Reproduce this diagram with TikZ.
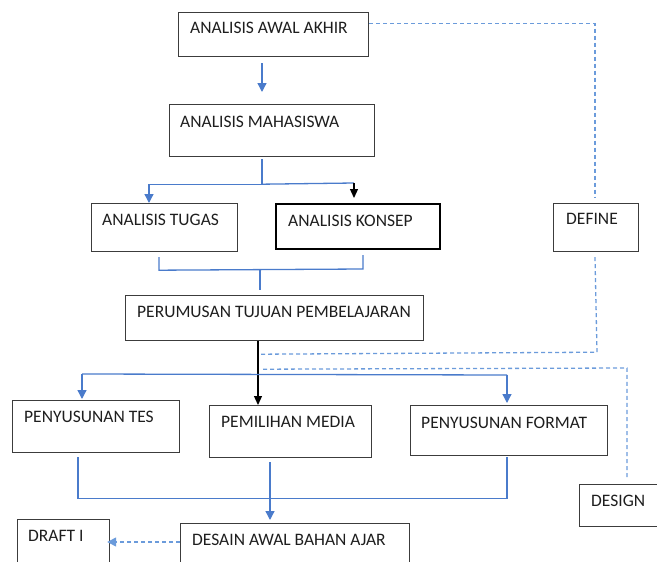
\documentclass[tikz,border=0pt]{standalone}
\usepackage{fontspec}
\setmainfont{Carlito}
\usepackage{tikz}
\usetikzlibrary{arrows.meta}

\definecolor{boxline}{HTML}{3C3C3C}
\definecolor{flowblue}{HTML}{4A7BCB}
\definecolor{dashblue}{HTML}{6B9BDB}
\definecolor{txt}{HTML}{1E1E1E}

\tikzset{
    box/.style={draw=boxline, line width=1.2pt, rectangle, anchor=north west, inner sep=0pt},
    boxtext/.style={anchor=base west, inner sep=0pt, text=txt, font=\fontsize{17.5}{20}\selectfont},
    flow/.style={draw=flowblue, line width=1.3pt},
    flowarrow/.style={flow, -{Triangle[width=9pt,length=9pt]}},
    blackarrow/.style={draw=black, line width=1.3pt, -{Triangle[width=8pt,length=9pt]}},
    phase/.style={draw=dashblue, line width=1.3pt, dash pattern=on 4pt off 3pt},
}

\begin{document}
\begin{tikzpicture}[x=1pt, y=-1pt]
        \useasboundingbox (0,0) rectangle (657,562);
        % boxes
        \node[box, minimum width=190pt, minimum height=44pt] (aaa) at (178,12) {};
        \node[box, minimum width=205pt, minimum height=52pt] (am) at (169,104) {};
        \node[box, minimum width=146pt, minimum height=48pt] (at) at (91,203) {};
        \node[box, draw=black, line width=2pt, minimum width=164pt, minimum height=45pt] (ak) at (275,203) {};
        \node[box, minimum width=85pt, minimum height=48pt] (def) at (553,203) {};
        \node[box, minimum width=298pt, minimum height=45pt] (ptp) at (125,295) {};
        \node[box, minimum width=167pt, minimum height=52pt] (pt) at (12,400) {};
        \node[box, minimum width=162pt, minimum height=52pt] (pm) at (209,405) {};
        \node[box, minimum width=197pt, minimum height=50pt] (pf) at (410,405) {};
        \node[box, minimum width=91pt, minimum height=42pt] (des) at (579,484) {};
        \node[box, minimum width=229pt, minimum height=57pt] (dab) at (180,523) {};
        \node[box, minimum width=92pt, minimum height=61pt] (dr) at (17,519) {};
        % texts
        \node[boxtext] (aaa-t) at ([shift={(12,22)}]aaa.north west) {ANALISIS AWAL AKHIR};
        \node[boxtext] (am-t) at ([shift={(11,23)}]am.north west) {ANALISIS MAHASISWA};
        \node[boxtext] (at-t) at ([shift={(11,22)}]at.north west) {ANALISIS TUGAS};
        \node[boxtext] (ak-t) at ([shift={(13,23)}]ak.north west) {ANALISIS KONSEP};
        \node[boxtext] (def-t) at ([shift={(13,21)}]def.north west) {DEFINE};
        \node[boxtext] (ptp-t) at ([shift={(12,22)}]ptp.north west) {PERUMUSAN TUJUAN PEMBELAJARAN};
        \node[boxtext] (pt-t) at ([shift={(12,22)}]pt.north west) {PENYUSUNAN TES};
        \node[boxtext] (pm-t) at ([shift={(12,22)}]pm.north west) {PEMILIHAN MEDIA};
        \node[boxtext] (pf-t) at ([shift={(11,23)}]pf.north west) {PENYUSUNAN FORMAT};
        \node[boxtext] (des-t) at ([shift={(12,22)}]des.north west) {DESIGN};
        \node[boxtext] (dab-t) at ([shift={(12,22)}]dab.north west) {DESAIN AWAL BAHAN AJAR};
        \node[boxtext] (dr-t) at ([shift={(11,22)}]dr.north west) {DRAFT I};
        % define phase
        \draw[flowarrow] ([shift={(84,6)}]aaa.south west) -- ([shift={(93,-12)}]am.north west);
        \coordinate (split) at ([shift={(93,27)}]am.south west);
        \draw[flow] ([shift={(93,2)}]am.south west) -- (split);
        \draw[flowarrow] (split) -| ([shift={(58,0)}]at.north west);
        \draw[flow] (split) -- ([shift={(79,-20)}]ak.north west);
        \draw[blackarrow] ([shift={(79,-20)}]ak.north west) -- ([shift={(79,-5)}]ak.north west);
        % join into tujuan
        \draw[flow] ([shift={(68,5)}]at.south west) -- ([shift={(68,18)}]at.south west)
            -- ([shift={(88,19)}]ak.south west) -- ([shift={(88,5)}]ak.south west);
        \draw[flow] ([shift={(135,-26)}]ptp.north west) -- ([shift={(135,-5)}]ptp.north west);
        % design phase
        \draw[blackarrow] ([shift={(133,0)}]ptp.south west) -- ([shift={(49,0)}]pm.north west);
        \draw[flow] ([shift={(70,-26)}]pt.north west) -- ([shift={(97,-30)}]pf.north west);
        \draw[flowarrow] ([shift={(70,-26)}]pt.north west) -- ([shift={(70,-1)}]pt.north west);
        \draw[flowarrow] ([shift={(97,-30)}]pf.north west) -- ([shift={(97,-2)}]pf.north west);
        \draw[flow] ([shift={(66,4)}]pt.south west) -- ([shift={(66,45)}]pt.south west)
            -- ([shift={(97,42)}]pf.south west) -- ([shift={(97,1)}]pf.south west);
        \draw[flowarrow] ([shift={(61,4)}]pm.south west) -- ([shift={(90,-3)}]dab.north west);
        % dashed phase lines
        \draw[phase] (aaa.east |- aaa-t) ++(0,-5) -| ([shift={(42,-5)}]def.north west);
        \draw[phase] ([shift={(42,5)}]def.south west) -- ([shift={(44,100)}]def.south west)
            -- ([shift={(136,13)}]ptp.south west);
        \draw[phase] ([shift={(138,28)}]ptp.south west) -- ([shift={(48,-116)}]des.north west)
            -- ([shift={(48,-6)}]des.north west);
        \draw[phase, -{Triangle[width=9pt,length=9pt]}, draw=dashblue] ([shift={(0,19)}]dab.north west) -- ([shift={(-3,23)}]dr.north east);
\end{tikzpicture}
\end{document}
